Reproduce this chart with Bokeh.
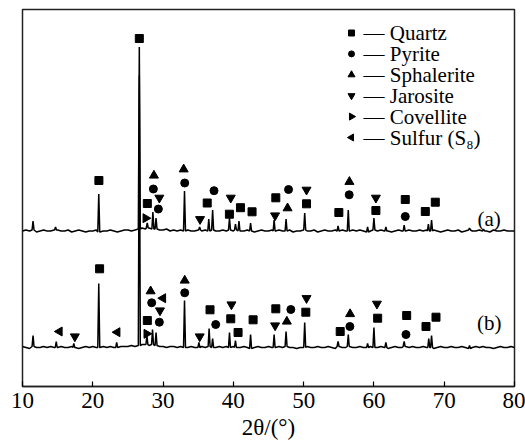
import numpy as np
from bokeh.plotting import figure
from bokeh.models import Label, FixedTicker
from bokeh.embed import file_html
from bokeh.resources import INLINE

# ---------------- data ----------------
x_ticks = [10, 20, 30, 40, 50, 60, 70, 80]

# baseline wiggle of each pattern, every 0.5 deg from 10 to 80 (a.u.)
a_noise = [1, 2, 1, 2, 0, 1, 2, 1, 1, 2,
           2, 1, 1, 2, 0, 1, 2, 1, 0, 1,
           1, 2, 0, 1, 1, 2, 1, 0, 1, 2,
           2, 1, 2, 3, 4, 3, 4, 3, 3, 2,
           2, 3, 1, 2, 1, 2, 1, 2, 1, 1,
           2, 1, 2, 1, 2, 1, 1, 2, 1, 2,
           1, 2, 1, 1, 2, 1, 0, 1, 2, 1,
           1, 2, 1, 2, 1, 1, 2, 0, 1, 1,
           2, 1, 1, 2, 0, 1, 2, 1, 1, 2,
           1, 2, 1, 1, 2, 1, 2, 1, 0, 1,
           2, 1, 2, 1, 1, 0, 1, 2, 1, 1,
           2, 1, 1, 2, 1, 2, 1, 2, 1, 0,
           1, 2, 1, 1, 2, 0, 1, 2, 1, 1,
           2, 1, 1, 0, 2, 1, 1, 2, 1, 1,
           1]
b_noise = [2, 1, 0, 2, 1, 1, 2, 1, 2, 1,
           1, 2, 1, 1, 2, 1, 0, 1, 2, 1,
           2, 1, 1, 2, 1, 2, 1, 1, 2, 2,
           2, 3, 2, 3, 4, 4, 3, 4, 3, 2,
           2, 1, 2, 2, 1, 2, 1, 1, 2, 1,
           1, 2, 1, 2, 1, 1, 2, 1, 2, 1,
           2, 1, 1, 2, 1, 0, 1, 2, 1, 1,
           2, 1, 1, 2, 1, 2, 1, 1, 0, 1,
           1, 2, 1, 1, 2, 1, 1, 2, 1, 0,
           2, 1, 1, 2, 1, 1, 2, 1, 1, 2,
           1, 1, 2, 1, 0, 1, 2, 1, 1, 2,
           1, 2, 1, 1, 2, 1, 1, 0, 1, 2,
           1, 1, 2, 1, 1, 2, 1, 0, 1, 2,
           1, 2, 1, 1, 0, 1, 2, 1, 1, 2,
           1]

# vertical offsets of the stacked patterns (a.u.)
a_offset = 154.5
b_offset = 38.0

# diffraction peaks: 2theta (deg) and height above baseline (a.u.)
a_peak_pos = [11.5, 14.7, 20.85, 26.62, 27.75, 28.55, 29.0, 33.05, 35.2, 36.5,
              37.05, 39.45, 40.3, 40.8, 42.45, 45.8, 47.5, 50.15, 54.9, 56.35,
              59.1, 60.0, 61.7, 64.3, 67.75, 68.2, 73.6, 75.6]
a_peak_h = [9, 3, 38, 182, 5, 17, 11, 40, 3, 12,
            20, 12, 6, 10, 8, 11, 12, 17, 5, 21,
            5, 12, 4, 6, 7, 11, 2, 2]

b_peak_pos = [11.5, 14.8, 17.3, 20.85, 23.4, 26.62, 27.7, 28.5, 29.0, 33.05,
              35.1, 36.55, 37.05, 39.45, 40.3, 42.45, 45.8, 47.5, 50.15, 54.9,
              56.35, 59.1, 60.0, 61.7, 64.3, 67.8, 68.2, 73.6]
b_peak_h = [11, 6, 4, 64, 5, 270, 9, 15, 13, 47,
            5, 18, 9, 15, 7, 14, 13, 15, 25, 5,
            12, 4, 20, 5, 5, 9, 12, 3]

# phase markers (2theta, a.u.)
quartz_x = [20.87, 26.62, 27.76, 36.28, 39.44, 41.01, 42.66, 46.04, 50.41, 55.01,
            60.28, 64.46, 67.31, 68.73,
            20.97, 27.76, 36.68, 39.63, 40.67, 42.81, 46.04, 50.31, 55.20, 60.53,
            64.66, 67.41, 68.83]
quartz_y = [206, 348, 183, 183.5, 172.3, 178.8, 174.7, 188.7, 182.7, 174,
            176, 187, 175, 184.3,
            117.7, 66, 76.7, 67.7, 54, 66.7, 77.7, 74.3, 55, 68.3,
            71, 60, 69.3]
pyrite_x = [28.62, 29.33, 33.08, 37.25, 47.85, 56.48, 64.46,
            28.38, 29.47, 33.08, 37.49, 48.18, 56.58, 64.56]
pyrite_y = [197.5, 177.5, 203.5, 195.8, 197, 191.7, 170,
            83.7, 64.3, 93.7, 62, 77, 60, 52]
sphalerite_x = [28.70, 32.93, 47.71, 56.51, 28.23, 33.08, 47.61, 56.61]
sphalerite_y = [211, 217.2, 178.3, 204.7, 95.3, 106, 65, 72.5]
jarosite_x = [29.47, 35.26, 39.63, 45.94, 50.41, 60.28,
              17.45, 29.56, 35.21, 39.73, 45.94, 50.41, 60.43]
jarosite_y = [188.7, 167.3, 188.7, 171, 196.7, 188.7,
              50, 76, 50, 82, 61, 88.3, 82.7]
covellite_x = [27.52, 27.66]
covellite_y = [168.3, 52.7]
sulfur_x = [15.27, 23.49, 29.99]
sulfur_y = [55, 54.3, 88.3]

phase_names = ["Quartz", "Pyrite", "Sphalerite", "Jarosite", "Covellite", "Sulfur (S\u2088)"]
sample_labels = ["(a)", "(b)"]
sample_label_x = [76.4, 76.4]
sample_label_y = [168, 64]
x_title = "2\u03b8/(\u00b0)"

# ---------------- building the traces ----------------
def build_trace(noise, offset, pos, heights, w=0.14):
    xs = [10.0 + 0.5 * i for i in range(len(noise))]
    pts = [(x, offset + n) for x, n in zip(xs, noise)
           if all(abs(x - p) >= w for p in pos)]
    for p_, h in zip(pos, heights):
        j = int(round((p_ - 10.0) / 0.5))
        base = offset + noise[j]
        pts += [(p_ - w, base), (p_, base + h), (p_ + w, base)]
    pts.sort()
    return [q[0] for q in pts], [q[1] for q in pts]

ax, ay = build_trace(a_noise, a_offset, a_peak_pos, a_peak_h)
bx, by = build_trace(b_noise, b_offset, b_peak_pos, b_peak_h)

SERIF = "Liberation Serif"
W, H = 525, 443
FL, FR, FT, FB = 22, 11, 9, 57   # borders around the frame (px)

p = figure(width=W, height=H, x_range=(10, 80), y_range=(0, 377),
           output_backend="svg", toolbar_location=None,
           min_border_left=FL, min_border_right=FR, min_border_top=FT, min_border_bottom=FB)
p.grid.visible = False
p.yaxis.visible = False
p.outline_line_color = "#222222"
p.outline_line_width = 1.5
p.background_fill_color = "white"
p.border_fill_color = "white"

xa = p.xaxis[0]
xa.ticker = FixedTicker(ticks=x_ticks)
xa.major_tick_in = 5
xa.major_tick_out = 0
xa.minor_tick_line_color = None
xa.axis_line_color = "#222222"
xa.axis_line_width = 1.5
xa.major_tick_line_width = 1.2
xa.major_label_text_font = SERIF
xa.major_label_text_font_size = "23px"
xa.major_label_text_color = "black"
xa.major_label_standoff = 6
xa.axis_label = x_title
xa.axis_label_text_font = SERIF
xa.axis_label_text_font_size = "23px"
xa.axis_label_text_font_style = "normal"
xa.axis_label_text_color = "black"
xa.axis_label_standoff = 4

p.line(ax, ay, line_color="black", line_width=1.5)
p.line(bx, by, line_color="black", line_width=1.5)

marker_specs = [("square", 8, 0.0), ("circle", 8, 0.0), ("triangle", 9, 0.0),
                ("inverted_triangle", 9, 0.0), ("triangle", 9, -np.pi / 2),
                ("triangle", 9, np.pi / 2)]
phase_x = [quartz_x, pyrite_x, sphalerite_x, jarosite_x, covellite_x, sulfur_x]
phase_y = [quartz_y, pyrite_y, sphalerite_y, jarosite_y, covellite_y, sulfur_y]
for (m, s, a), xs, ys in zip(marker_specs, phase_x, phase_y):
    p.scatter(xs, ys, marker=m, size=s, angle=a, color="black")

# ---- legend drawn by hand (layout in pixels, converted to the data frame) ----
fw = W - FL - FR
sx = 70.0 / fw
def px_to_x(px):
    return 10 + (px - FL) * sx
def py_to_y(py):
    return (H - FB) - py

leg_marker_px = 351
leg_text_px = 363
leg_row0_py = 32.5
leg_row_py = 20.9
for i, ((m, s, a), name) in enumerate(zip(marker_specs, phase_names)):
    yy = py_to_y(leg_row0_py + i * leg_row_py)
    p.scatter([px_to_x(leg_marker_px)], [yy], marker=m, size=s - 2, angle=a, color="black")
    p.add_layout(Label(x=px_to_x(leg_text_px), y=yy, text="\u2014 " + name,
                       text_font=SERIF, text_font_size="21px",
                       text_align="left", text_baseline="middle", text_color="black"))

for t, x, y in zip(sample_labels, sample_label_x, sample_label_y):
    p.add_layout(Label(x=x, y=y, text=t, text_font=SERIF, text_font_size="21px",
                       text_align="center", text_baseline="middle", text_color="black"))

open("out.html", "w").write(file_html(p, INLINE))
